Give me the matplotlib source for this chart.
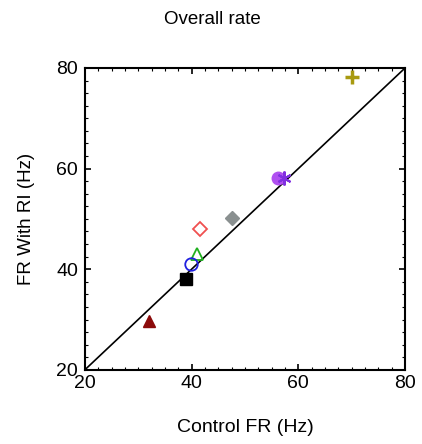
import matplotlib.pyplot as plt
from matplotlib.ticker import MultipleLocator

plt.rcParams['font.family'] = ['Liberation Sans', 'DejaVu Sans']

# Control FR vs FR with RI, one marker per condition
control_fr = [70.0, 56.2, 57.3, 47.6, 41.6, 41.0, 39.9, 38.9, 32.0]
ri_fr = [78.2, 58.1, 58.1, 50.2, 48.0, 43.0, 41.0, 38.0, 29.7]
markers = ['+', 'o', (6, 2, 0), 'D', 'D', '^', 'o', 's', '^']
colors = ['#a89a10', '#b050f0', '#8030e0', '#8a9090', '#f05050', '#20b020', '#2020e0', '#000000', '#8b0a0a']
filled = [True, True, True, True, False, False, False, True, True]

fig = plt.figure(figsize=(4.22, 4.44), dpi=100)
ax = fig.add_axes([0.201, 0.167, 0.759, 0.680])

ax.plot([20, 80], [20, 80], color='black', lw=1.2, zorder=1)

for x, y, m, c, f in zip(control_fr, ri_fr, markers, colors, filled):
    if m == '+' or isinstance(m, tuple):
        ax.plot(x, y, marker=m, color=c, ms=10, mew=2.5 if m == '+' else 1.5, ls='none', zorder=3)
    elif f:
        ax.plot(x, y, marker=m, color=c, mfc=c, mec=c, ms=9 if m != 'D' else 7, ls='none', zorder=3)
    else:
        ax.plot(x, y, marker=m, mfc='none', mec=c, mew=1.3, ms=9 if m != 'D' else 7, ls='none', zorder=3)

ax.set_xlim(20, 80)
ax.set_ylim(20, 80)
ax.xaxis.set_major_locator(MultipleLocator(20))
ax.yaxis.set_major_locator(MultipleLocator(20))
ax.xaxis.set_minor_locator(MultipleLocator(2.5))
ax.yaxis.set_minor_locator(MultipleLocator(2.5))
ax.tick_params(which='both', direction='in', top=True, right=True, labelsize=14)
ax.tick_params(axis='y', pad=5)
ax.tick_params(axis='x', pad=4)
ax.tick_params(which='major', length=4, width=1.2)
ax.tick_params(which='minor', length=2, width=0.8)
for s in ax.spines.values():
    s.set_linewidth(1.5)

ax.set_xlabel('Control FR (Hz)', fontsize=14, labelpad=19)
ax.set_ylabel('FR With RI (Hz)', fontsize=13.5, labelpad=15)
fig.text(0.503, 0.955, 'Overall rate', ha='center', va='center', fontsize=13.5)

fig.savefig('out.png', dpi=100)
